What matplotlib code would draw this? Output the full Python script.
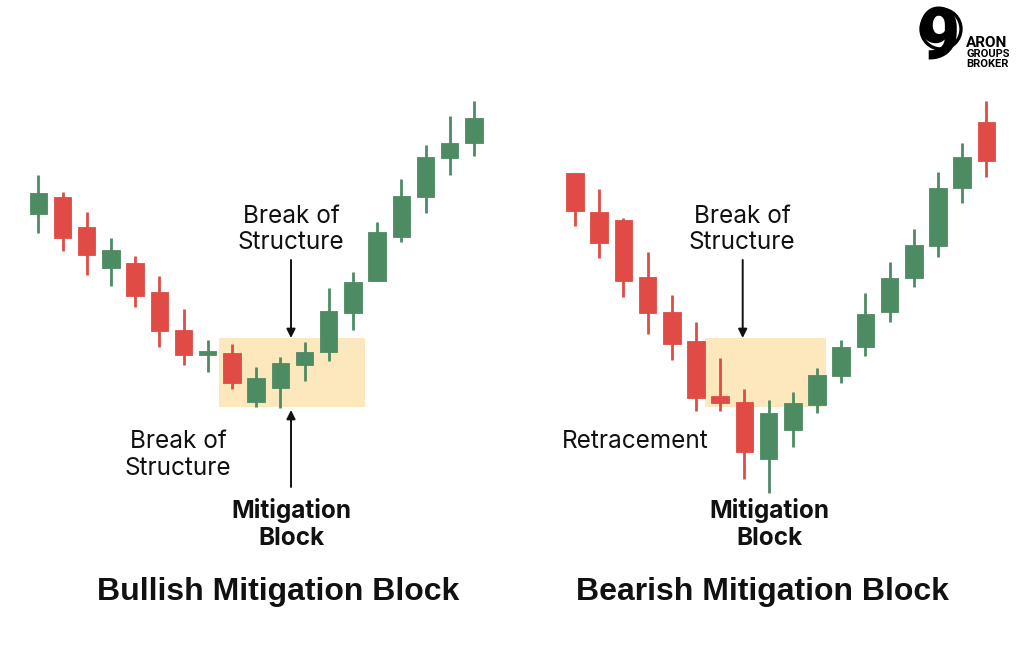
import matplotlib
matplotlib.use("Agg")
import matplotlib.pyplot as plt
from matplotlib.patches import Rectangle, Circle

# ---------------- data (price units) ----------------
bull_open  = [385.7, 403.3, 373.3, 331.7, 336.7, 308.3, 270.0, 245.0, 247.3, 198.3, 212.3, 235.0, 248.3, 287.3, 319.0, 363.3, 403.3, 441.7, 456.7]
bull_close = [406.7, 361.7, 345.0, 350.0, 304.3, 269.3, 245.0, 249.3, 216.7, 221.7, 237.3, 248.3, 289.3, 317.7, 368.3, 404.3, 443.3, 456.7, 481.7]
bull_high  = [425.0, 407.7, 388.3, 362.3, 344.3, 324.0, 291.0, 260.0, 256.0, 233.3, 243.3, 257.7, 311.7, 328.3, 378.3, 420.7, 455.0, 484.0, 499.3]
bull_low   = [367.3, 349.3, 325.0, 314.0, 293.3, 253.3, 235.0, 228.3, 210.7, 193.3, 191.7, 219.0, 239.3, 270.0, 319.0, 358.3, 387.3, 425.0, 444.3]

bear_open  = [427.3, 388.3, 380.0, 322.7, 288.3, 259.0, 204.0, 198.3, 140.7, 170.0, 195.0, 224.0, 253.3, 288.3, 322.3, 354.3, 411.7, 478.3]
bear_close = [389.0, 357.3, 319.0, 286.7, 255.7, 201.7, 197.3, 147.7, 186.7, 196.7, 225.0, 253.3, 286.0, 321.7, 355.0, 412.3, 443.3, 439.0]
bear_high  = [427.3, 410.7, 381.7, 348.3, 305.0, 278.3, 241.7, 211.0, 200.0, 208.3, 231.7, 260.0, 306.7, 338.3, 370.7, 428.3, 456.7, 499.3]
bear_low   = [374.0, 341.7, 303.3, 266.0, 240.0, 189.3, 189.3, 120.7, 107.3, 152.7, 186.7, 217.3, 244.0, 278.3, 312.7, 343.3, 396.7, 423.3]

# mitigation zones: (first slot, last slot, low price, high price)
bull_zone = (7.48, 13.5, 193.3, 261.7)
bear_zone = (5.37, 10.37, 193.3, 261.7)

titles = ["Bullish Mitigation Block", "Bearish Mitigation Block"]

GREEN = "#4D8B63"
RED = "#E04C45"
ZONE = "#FDE7BD"
INK = "#111111"

plt.rcParams["font.family"] = ["Inter", "DejaVu Sans"]

fig = plt.figure(figsize=(10.24, 6.67), dpi=100)
fig.patch.set_facecolor("white")

YLIM = (600 - 667, 600)
STEP = 24.2


def draw_candles(ax, o, c, h, l):
    for i in range(len(o)):
        col = GREEN if c[i] >= o[i] else RED
        ax.vlines(i, l[i], h[i], color=col, lw=2.0, zorder=3)
        lo, hi = min(o[i], c[i]), max(o[i], c[i])
        hgt = max(hi - lo, 3.5)
        ax.add_patch(Rectangle((i - 0.36, lo), 0.72, hgt, facecolor=col,
                               edgecolor=col, lw=0.6, zorder=4))


axL = fig.add_axes([0, 0, 0.5, 1])
axL.set_xlim(-38.3 / STEP, (512 - 38.3) / STEP)
axL.set_ylim(*YLIM)
axL.axis("off")
z = bull_zone
axL.add_patch(Rectangle((z[0], z[2]), z[1] - z[0], z[3] - z[2],
                        facecolor=ZONE, edgecolor="none", zorder=1))
draw_candles(axL, bull_open, bull_close, bull_high, bull_low)

axR = fig.add_axes([0.5, 0, 0.5, 1])
axR.set_xlim(-(575 - 512) / STEP, (1024 - 575) / STEP)
axR.set_ylim(*YLIM)
axR.axis("off")
z = bear_zone
axR.add_patch(Rectangle((z[0], z[2]), z[1] - z[0], z[3] - z[2],
                        facecolor=ZONE, edgecolor="none", zorder=1))
draw_candles(axR, bear_open, bear_close, bear_high, bear_low)

ov = fig.add_axes([0, 0, 1, 1], zorder=10)
ov.set_xlim(0, 1024)
ov.set_ylim(667, 0)
ov.axis("off")
ov.patch.set_alpha(0)

lbl = dict(fontsize=17.5, color=INK, linespacing=1.17)
bold = dict(fontsize=17.5, color=INK, fontweight="bold", linespacing=1.2)
arr = dict(arrowstyle="-|>", lw=1.4, color=INK, mutation_scale=13,
           shrinkA=0, shrinkB=0)

ov.text(291, 229.5, "Break of\nStructure", ha="center", va="center", **lbl)
ov.annotate("", xy=(291, 338), xytext=(291, 260), arrowprops=arr)
ov.text(178, 455, "Break of\nStructure", ha="center", va="center", **lbl)
ov.annotate("", xy=(291, 410), xytext=(291, 487), arrowprops=arr)
ov.text(291, 524, "Mitigation\nBlock", ha="center", va="center", **bold)
ov.text(278, 592, titles[0], ha="center", va="center", fontsize=23,
        fontweight="bold", color=INK, family=["Liberation Sans", "DejaVu Sans"])

ov.text(742, 229.5, "Break of\nStructure", ha="center", va="center", **lbl)
ov.annotate("", xy=(742.7, 338), xytext=(742.7, 260), arrowprops=arr)
ov.text(562, 441, "Retracement", ha="left", va="center", **lbl)
ov.text(769, 524, "Mitigation\nBlock", ha="center", va="center", **bold)
ov.text(762, 592, titles[1], ha="center", va="center", fontsize=23,
        fontweight="bold", color=INK, family=["Liberation Sans", "DejaVu Sans"])

# logo
ov.add_patch(Circle((941, 29), 20, facecolor="none", edgecolor="black", lw=2.4))
ov.text(938, 40, "9", ha="center", va="center", fontsize=52,
        fontweight="black", color="black", family=["Roboto", "DejaVu Sans"])
ov.text(987, 43, "ARON", ha="center", va="center", fontsize=11,
        fontweight="bold", color="black", family=["Roboto", "DejaVu Sans"])
ov.text(988, 54, "GROUPS", ha="center", va="center", fontsize=8,
        fontweight="bold", color="black", family=["Roboto", "DejaVu Sans"])
ov.text(987, 64, "BROKER", ha="center", va="center", fontsize=8,
        fontweight="bold", color="black", family=["Roboto", "DejaVu Sans"])

fig.savefig("out.png", dpi=100, facecolor="white")
